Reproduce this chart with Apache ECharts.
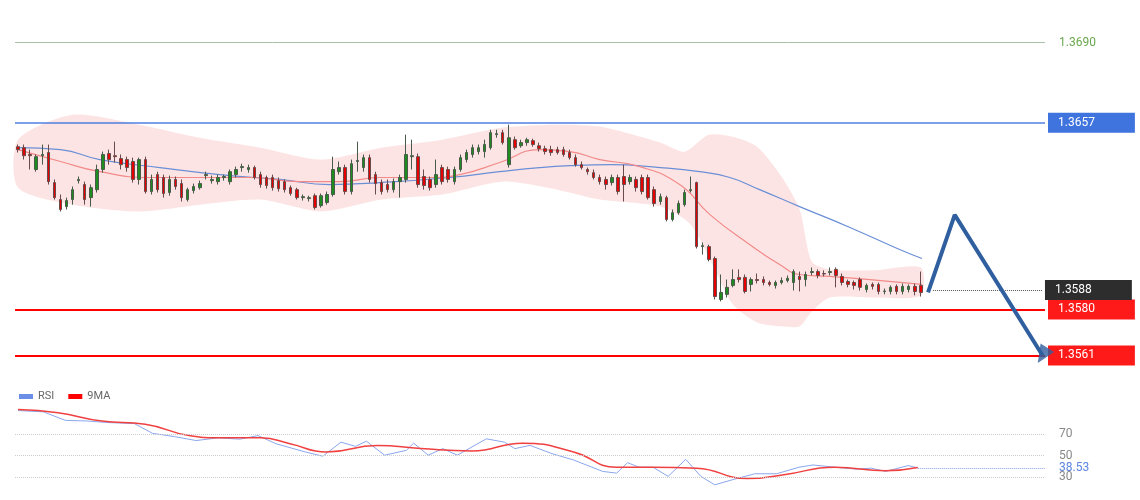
<!DOCTYPE html>
<html><head><meta charset="utf-8">
<script src="https://cdn.jsdelivr.net/npm/echarts@6/dist/echarts.min.js"></script>
<style>html,body{margin:0;padding:0;background:#fff}#c{width:1140px;height:500px}</style>
</head><body><div id="c"></div>
<script>
// candles: [open, close, low, high]
const candles = [
[1.36471,1.36459,1.36447,1.36480],[1.36467,1.36434,1.36418,1.36480],[1.36439,1.36434,1.36377,1.36459],[1.36377,1.36430,1.36368,1.36439],
[1.36434,1.36439,1.36397,1.36480],[1.36447,1.36327,1.36315,1.36480],[1.36323,1.36261,1.36253,1.36336],[1.36253,1.36212,1.36204,1.36274],
[1.36224,1.36249,1.36212,1.36261],[1.36253,1.36294,1.36232,1.36307],[1.36331,1.36336,1.36319,1.36348],[1.36315,1.36253,1.36232,1.36327],
[1.36261,1.36302,1.36224,1.36315],[1.36294,1.36377,1.36282,1.36397],[1.36377,1.36439,1.36364,1.36451],[1.36443,1.36418,1.36397,1.36459],
[1.36434,1.36430,1.36406,1.36492],[1.36422,1.36397,1.36377,1.36439],[1.36418,1.36385,1.36368,1.36430],[1.36410,1.36336,1.36323,1.36426],
[1.36336,1.36418,1.36315,1.36426],[1.36418,1.36286,1.36278,1.36430],[1.36286,1.36336,1.36274,1.36356],[1.36356,1.36294,1.36282,1.36368],
[1.36344,1.36278,1.36261,1.36356],[1.36282,1.36336,1.36269,1.36352],[1.36336,1.36307,1.36294,1.36348],[1.36319,1.36261,1.36245,1.36336],
[1.36253,1.36294,1.36245,1.36302],[1.36290,1.36307,1.36278,1.36319],[1.36302,1.36319,1.36294,1.36331],[1.36352,1.36356,1.36336,1.36368],
[1.36331,1.36336,1.36319,1.36352],[1.36327,1.36344,1.36315,1.36356],[1.36344,1.36348,1.36331,1.36356],[1.36327,1.36368,1.36315,1.36377],
[1.36356,1.36377,1.36344,1.36389],[1.36385,1.36389,1.36368,1.36401],[1.36377,1.36385,1.36364,1.36397],[1.36385,1.36344,1.36336,1.36393],
[1.36356,1.36315,1.36302,1.36368],[1.36344,1.36311,1.36298,1.36352],[1.36344,1.36302,1.36290,1.36356],[1.36331,1.36298,1.36286,1.36344],
[1.36327,1.36294,1.36282,1.36336],[1.36302,1.36278,1.36269,1.36311],[1.36294,1.36261,1.36253,1.36302],[1.36261,1.36265,1.36249,1.36274],
[1.36257,1.36261,1.36245,1.36269],[1.36269,1.36220,1.36212,1.36278],[1.36228,1.36269,1.36220,1.36278],[1.36241,1.36274,1.36232,1.36286],
[1.36274,1.36377,1.36265,1.36430],[1.36368,1.36385,1.36356,1.36410],[1.36385,1.36286,1.36274,1.36397],[1.36286,1.36401,1.36274,1.36418],
[1.36410,1.36414,1.36368,1.36492],[1.36385,1.36426,1.36368,1.36439],[1.36426,1.36336,1.36323,1.36439],[1.36356,1.36319,1.36274,1.36368],
[1.36323,1.36286,1.36274,1.36336],[1.36315,1.36294,1.36282,1.36336],[1.36294,1.36327,1.36282,1.36340],[1.36327,1.36344,1.36261,1.36356],
[1.36336,1.36439,1.36323,1.36521],[1.36430,1.36434,1.36377,1.36500],[1.36430,1.36315,1.36302,1.36443],[1.36348,1.36311,1.36294,1.36377],
[1.36336,1.36302,1.36290,1.36348],[1.36315,1.36356,1.36302,1.36418],[1.36385,1.36327,1.36315,1.36397],[1.36377,1.36336,1.36323,1.36389],
[1.36327,1.36377,1.36315,1.36389],[1.36377,1.36426,1.36368,1.36439],[1.36418,1.36447,1.36406,1.36459],[1.36439,1.36467,1.36426,1.36480],
[1.36451,1.36467,1.36439,1.36480],[1.36451,1.36480,1.36426,1.36500],[1.36467,1.36529,1.36459,1.36541],[1.36521,1.36525,1.36508,1.36541],
[1.36529,1.36488,1.36480,1.36541],[1.36397,1.36508,1.36385,1.36562],[1.36500,1.36467,1.36459,1.36513],[1.36475,1.36488,1.36467,1.36500],
[1.36488,1.36500,1.36475,1.36508],[1.36496,1.36480,1.36471,1.36504],[1.36475,1.36463,1.36451,1.36488],[1.36463,1.36451,1.36439,1.36475],
[1.36459,1.36447,1.36434,1.36475],[1.36459,1.36447,1.36439,1.36471],[1.36459,1.36439,1.36430,1.36471],[1.36447,1.36426,1.36418,1.36459],
[1.36426,1.36397,1.36389,1.36439],[1.36397,1.36385,1.36377,1.36410],[1.36377,1.36368,1.36356,1.36385],[1.36364,1.36344,1.36336,1.36377],
[1.36344,1.36327,1.36315,1.36356],[1.36336,1.36315,1.36294,1.36348],[1.36323,1.36344,1.36311,1.36356],[1.36344,1.36286,1.36274,1.36356],
[1.36348,1.36315,1.36245,1.36397],[1.36327,1.36344,1.36315,1.36356],[1.36336,1.36302,1.36286,1.36348],[1.36344,1.36286,1.36274,1.36356],
[1.36344,1.36261,1.36253,1.36356],[1.36294,1.36237,1.36224,1.36307],[1.36245,1.36265,1.36232,1.36278],[1.36261,1.36171,1.36163,1.36269],
[1.36171,1.36199,1.36163,1.36212],[1.36199,1.36237,1.36191,1.36249],[1.36232,1.36282,1.36224,1.36294],[1.36290,1.36294,1.36282,1.36348],
[1.36323,1.36059,1.36051,1.36327],[1.36059,1.36063,1.36026,1.36076],[1.36059,1.36006,1.35998,1.36067],[1.36010,1.35853,1.35841,1.36018],
[1.35841,1.35870,1.35833,1.35944],[1.35862,1.35891,1.35849,1.35923],[1.35899,1.35923,1.35891,1.35965],[1.35932,1.35923,1.35911,1.35965],
[1.35932,1.35874,1.35866,1.35944],[1.35903,1.35923,1.35874,1.35932],[1.35923,1.35919,1.35907,1.35948],[1.35923,1.35911,1.35899,1.35936],
[1.35911,1.35903,1.35895,1.35919],[1.35899,1.35911,1.35886,1.35919],[1.35911,1.35919,1.35903,1.35932],[1.35919,1.35928,1.35911,1.35940],
[1.35911,1.35956,1.35878,1.35965],[1.35936,1.35923,1.35874,1.35956],[1.35923,1.35944,1.35895,1.35956],[1.35952,1.35956,1.35940,1.35973],
[1.35956,1.35940,1.35928,1.35965],[1.35948,1.35946,1.35936,1.35961],[1.35952,1.35956,1.35940,1.35973],[1.35965,1.35940,1.35891,1.35973],
[1.35936,1.35911,1.35899,1.35948],[1.35915,1.35903,1.35891,1.35923],[1.35911,1.35899,1.35882,1.35919],[1.35923,1.35891,1.35878,1.35932],
[1.35882,1.35899,1.35870,1.35907],[1.35903,1.35895,1.35882,1.35911],[1.35903,1.35874,1.35862,1.35911],[1.35874,1.35876,1.35862,1.35886],
[1.35874,1.35891,1.35862,1.35899],[1.35895,1.35874,1.35862,1.35903],[1.35874,1.35895,1.35862,1.35907],[1.35882,1.35895,1.35870,1.35903],
[1.35895,1.35874,1.35858,1.35907],[1.35899,1.35870,1.35853,1.35956]
];
const bandUpper = [[0,1.36500],[9,1.36603],[20,1.36562],[30,1.36508],[40,1.36467],[50,1.36418],[60,1.36467],[70,1.36500],[80,1.36550],[89,1.36562],[96,1.36554],[106,1.36488],[110,1.36450],[114,1.36520],[118,1.36512],[122,1.36471],[126,1.36348],[129,1.36212],[131,1.35998],[134,1.35965],[141,1.35961],[149,1.35973]];
const bandLower = [[0,1.36302],[9,1.36232],[20,1.36204],[30,1.36232],[40,1.36253],[50,1.36204],[60,1.36253],[70,1.36274],[80,1.36327],[89,1.36294],[96,1.36253],[106,1.36224],[111,1.36150],[115,1.35965],[118,1.35820],[122,1.35746],[126,1.35730],[129,1.35730],[131,1.35791],[134,1.35849],[141,1.35849],[149,1.35857]];
const slowMA = [[0,1.36467],[7,1.36459],[13.5,1.36418],[23.4,1.36385],[33.3,1.36356],[43.2,1.36336],[51.5,1.36315],[59.7,1.36323],[71.3,1.36344],[79.5,1.36368],[86.1,1.36385],[91.1,1.36393],[97.7,1.36397],[106,1.36385],[112.5,1.36368],[117.5,1.36344],[122.4,1.36294],[129,1.36224],[137.3,1.36138],[145.5,1.36047],[149.2,1.36010]];
const fastMA = [[0,1.36459],[7,1.36410],[13.5,1.36368],[21.8,1.36344],[30,1.36344],[38.3,1.36344],[46.5,1.36327],[53.1,1.36327],[59.7,1.36344],[68,1.36344],[72.9,1.36356],[79.5,1.36406],[86.1,1.36459],[91.1,1.36451],[96,1.36418],[102.6,1.36389],[109.2,1.36315],[114.2,1.36191],[120.8,1.36067],[125.7,1.35985],[129,1.35944],[134,1.35936],[140.6,1.35923],[149.2,1.35903]];
const arrowPath = [[150.2,1.3587],[154.6,1.3619],[169.1,1.3561]];
const levels = {top:1.3690, resist:1.3657, current:1.3588, s1:1.3580, s2:1.3561};
const rsi = [[0,91.8],[4.2,90.6],[7.8,82.7],[11.4,82.1],[15,80.6],[19.2,79.7],[22.2,70.6],[25.8,67.6],[29.4,63.9],[33,66.4],[36.6,65.2],[39.6,68.5],[42.6,60.9],[47.4,53.3],[50.3,49.4],[53.3,62.4],[55.7,58.5],[57.5,63.3],[60.5,50.3],[64.1,54.8],[65.3,61.5],[67.7,50.3],[70.1,56.4],[72.5,50.3],[77.3,65.5],[80.3,62.4],[82,56.4],[84.5,59.4],[88.1,51.8],[91.7,45.8],[96.5,35.2],[98.8,33.6],[100.6,43.3],[102.5,39.1],[104.8,39.1],[107.3,30.6],[110.2,46.4],[112.7,30.6],[115,22.7],[118,27.6],[121.6,33.0],[125.2,33.0],[128.9,39.1],[131.2,41.2],[134.8,39.1],[138.4,37.3],[140.8,38.2],[143.2,35.2],[146.9,40.6],[148.5,38.53]];
const rsiMA = [[0,92.7],[6.6,89.7],[13.8,82.1],[21,79.1],[28.2,68.5],[33,66.4],[40.1,66.4],[44.9,60.9],[50.9,53.3],[59.3,59.4],[66.5,56.4],[74.9,54.2],[83.3,61.5],[91.7,53.3],[98.8,39.1],[104.8,39.1],[112,38.2],[120.4,28.5],[126.4,32.1],[134.8,39.1],[143.2,35.8],[148.5,38.8]];
const rsiLevels = [70,50,30];
const rsiLast = 38.53;

const NCAT = 170;
const cats = Array.from({length:NCAT},(_,i)=>String(i));

function boxLabel(text,bg){return {show:true,position:'end',distance:3,formatter:text,color:'#fff',backgroundColor:bg,padding:[4,40,4,10],fontSize:12,fontFamily:'Roboto, sans-serif'};}

const chart = echarts.init(document.getElementById('c'));
chart.setOption({
  animation:false,
  legend:{data:['RSI','9MA'],left:14,top:386,itemWidth:14,itemHeight:5,itemGap:14,textStyle:{color:'#666',fontSize:11,fontFamily:'Roboto'},icon:'rect'},
  grid:[{left:15,width:1030,top:10,height:360},{left:15,width:1030,top:401.75,height:96.75}],
  xAxis:[
    {type:'category',data:cats,gridIndex:0,show:false,boundaryGap:true},
    {type:'value',min:-0.5,max:NCAT-0.5,gridIndex:0,show:false},
    {type:'value',min:-0.5,max:NCAT-0.5,gridIndex:1,show:false}
  ],
  yAxis:[
    {type:'value',min:1.3555,max:1.37035,gridIndex:0,show:false},
    {type:'value',min:10,max:100,gridIndex:1,show:false}
  ],
  series:[
    {type:'custom',xAxisIndex:1,yAxisIndex:0,data:[0],silent:true,z:1,
      renderItem:function(params,api){
        const pts = bandUpper.map(p=>api.coord(p)).concat(bandLower.slice().reverse().map(p=>api.coord(p)));
        return {type:'polygon',shape:{points:pts,smooth:0.25},style:{fill:'rgba(250,190,190,0.42)'}};
      }},
    {type:'line',xAxisIndex:1,yAxisIndex:0,data:slowMA,smooth:true,symbol:'none',lineStyle:{color:'#6b8fd6',width:1.2},z:3},
    {type:'line',xAxisIndex:1,yAxisIndex:0,data:fastMA,smooth:true,symbol:'none',lineStyle:{color:'#f28a8a',width:1.2},z:3},
    {type:'candlestick',xAxisIndex:0,yAxisIndex:0,data:candles,barMaxWidth:5,z:4,
      itemStyle:{color:'#1f8c1f',color0:'#e60000',borderColor:'#4a5a4a',borderColor0:'#6a4a4a',borderWidth:1},
      markLine:{silent:true,precision:5,symbol:['none','none'],data:[
        {yAxis:levels.top,lineStyle:{color:'#a9c0a9',width:1,type:'solid'},label:{show:true,position:'end',distance:14,formatter:'1.3690',color:'#6aa84f',fontSize:12,fontFamily:'Roboto'}},
        {yAxis:levels.resist,lineStyle:{color:'#4f7fe0',width:1.5,type:'solid'},label:boxLabel('1.3657','#3f73dd')},
        {yAxis:levels.s1,lineStyle:{color:'#ff0000',width:2,type:'solid'},label:boxLabel('1.3580','#ff1a1a')},
        {yAxis:levels.s2,lineStyle:{color:'#ff0000',width:2,type:'solid'},label:boxLabel('1.3561','#ff1a1a')},
        [{coord:[151,levels.current],lineStyle:{color:'#555',width:1,type:'dotted'},label:boxLabel('1.3588','#2d2d2d')},{coord:[NCAT-1,levels.current]}]
      ]}},
    {type:'line',xAxisIndex:1,yAxisIndex:0,data:arrowPath,symbol:'none',lineStyle:{color:'#2f5f9f',width:4},z:10},
    {type:'scatter',xAxisIndex:1,yAxisIndex:0,data:[arrowPath[2]],symbol:'triangle',symbolSize:[16,18],symbolRotate:148,itemStyle:{color:'#2f5f9f'},z:11},
    {name:'RSI',type:'line',xAxisIndex:2,yAxisIndex:1,data:rsi,symbol:'none',itemStyle:{color:'#6b8fe6'},lineStyle:{color:'#8aa6ec',width:1},
      markLine:{silent:true,precision:2,symbol:['none','none'],data:[
        ...rsiLevels.map(v=>({yAxis:v,lineStyle:{color:'#ccc',type:'dotted',width:1},label:{show:true,position:'end',distance:14,formatter:String(v),color:'#888',fontSize:12,fontFamily:'Roboto'}})),
        [{coord:[148.5,rsiLast],lineStyle:{color:'#8aa6ec',type:'dotted',width:1},label:{show:true,position:'end',distance:14,formatter:'38.53',color:'#5b84e0',fontSize:12,fontFamily:'Roboto'}},{coord:[NCAT-0.5,rsiLast]}]
      ]}},
    {name:'9MA',type:'line',xAxisIndex:2,yAxisIndex:1,data:rsiMA,smooth:true,symbol:'none',itemStyle:{color:'#ff0000'},lineStyle:{color:'#f04040',width:1.5}}
  ]
});
</script></body></html>
